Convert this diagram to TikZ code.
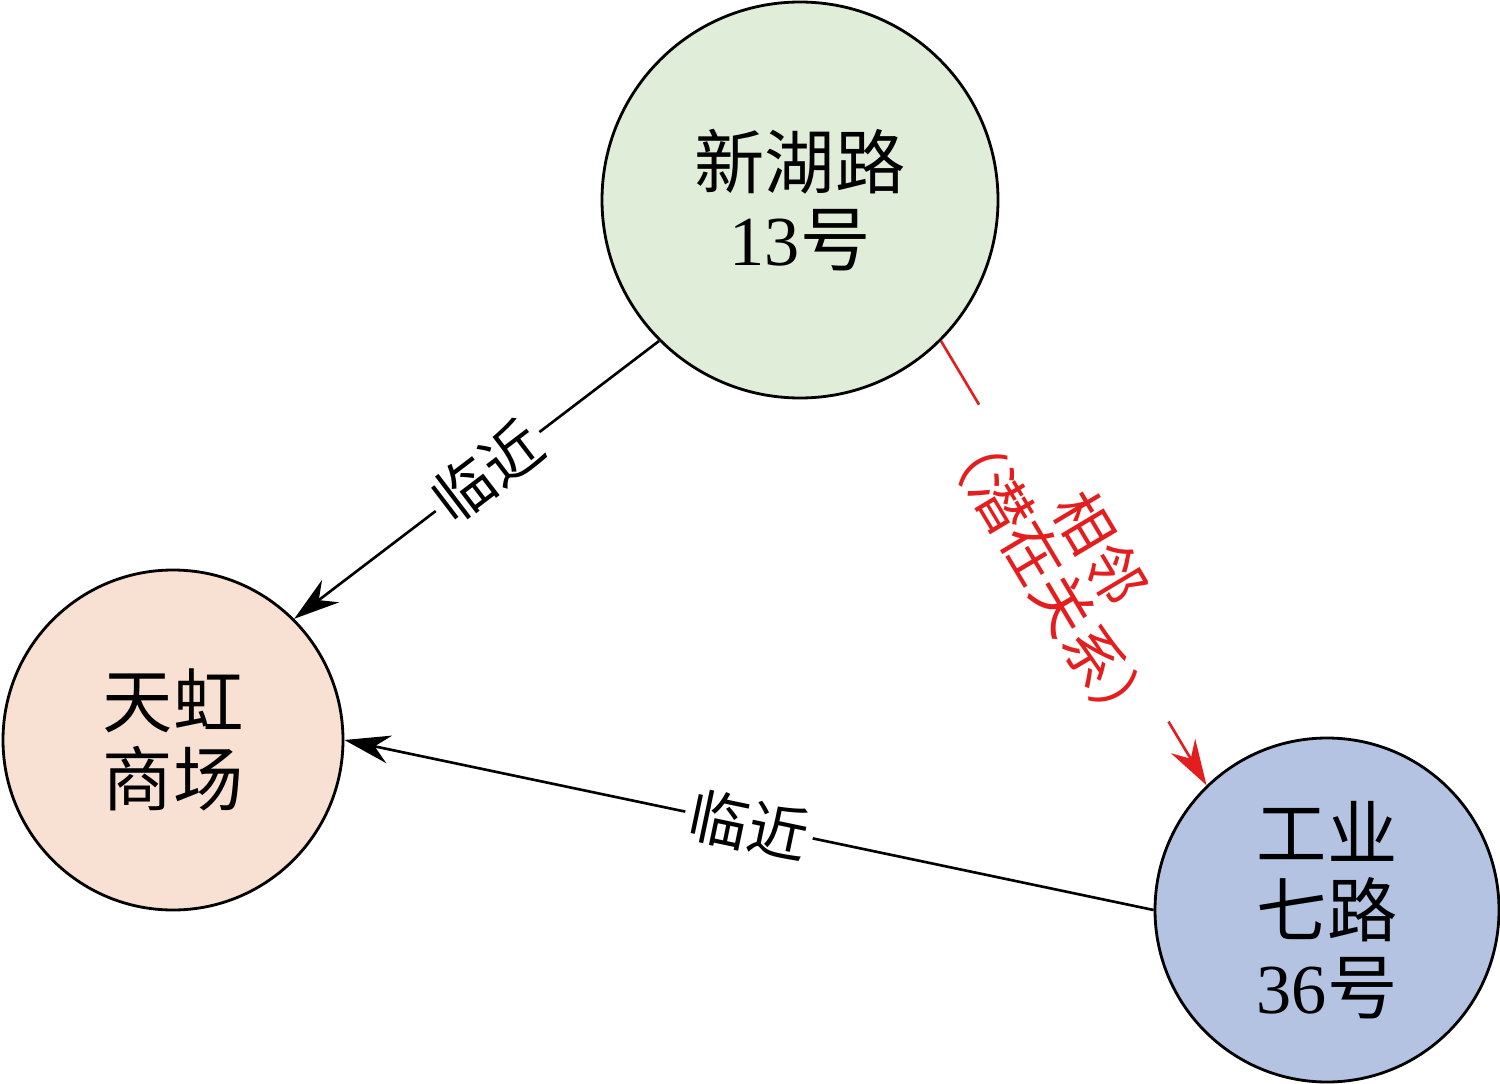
\documentclass[tikz,border=0pt]{standalone}
\usepackage{fontspec}
\setmainfont{Liberation Serif}
\newfontfamily\cjk{Noto Sans CJK SC}
\usetikzlibrary{arrows.meta}
\definecolor{cgreen}{HTML}{E0EDD8}
\definecolor{cpeach}{HTML}{F8E0D3}
\definecolor{cblue}{HTML}{B4C3E2}
\definecolor{cred}{HTML}{E41E1E}
\begin{document}
\begin{tikzpicture}[x=0.02cm,y=-0.02cm,
  place/.style={circle,draw=black,line width=1.6pt,inner sep=0pt,align=center,font=\fontsize{40}{44}\selectfont\cjk},
  conn/.style={line width=1.5pt,-{Stealth[length=26pt,width=16pt]}},
  lab/.style={fill=white,sloped,inner sep=3pt,align=center,font=\fontsize{34}{36}\selectfont\cjk}]
\useasboundingbox (0,0) rectangle (1500,1084);
\node[place,fill=cgreen,minimum size=396*0.02cm] (a) at (800,200) {新湖路\\{\rmfamily 13}号};
\node[place,fill=cpeach,minimum size=340*0.02cm] (b) at (173,740) {天虹\\商场};
\node[place,fill=cblue,minimum size=344*0.02cm] (c) at (1327,910) {工业\\七路\\{\rmfamily 36}号};
\draw[conn] (a.-135) -- node[lab,pos=0.47]{临近} (b.45);
\draw[conn] (c.180) -- node[lab,pos=0.5]{临近} (b.0);
\draw[conn,cred] (a.-45) -- node[lab,text=cred,pos=0.5,fill=none,font=\fontsize{34}{40}\selectfont\cjk]{\fcolorbox{white}{white}{相邻}\\[-6pt]\colorbox{white}{（潜在关系）}} (c.134);
\end{tikzpicture}
\end{document}
